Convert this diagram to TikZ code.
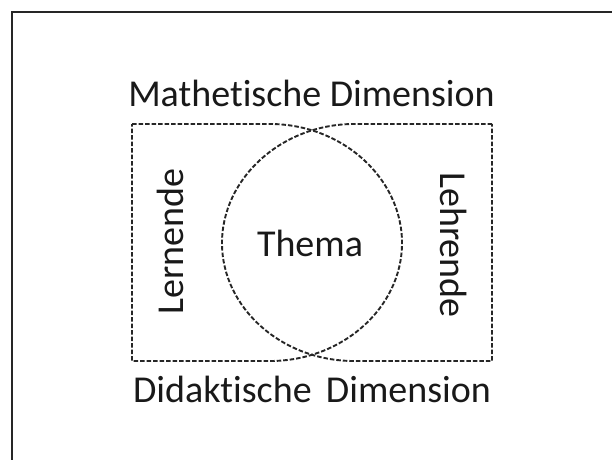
\documentclass[tikz,border=0pt]{standalone}
\usepackage{fontspec}
\setmainfont{Carlito}[Ligatures={NoCommon}]
\begin{document}
\begin{tikzpicture}[x=1pt,y=-1pt,
  dashline/.style={draw=black!85,line width=1.9pt,dash pattern=on 4.5pt off 2pt},
  lbl/.style={font=\fontsize{38}{46}\selectfont,anchor=base,inner sep=0pt,text=black!90}]
\useasboundingbox (0,0) rectangle (612,459);
% outer frame (extends beyond the page on the right and bottom)
\draw[line width=2.2pt,black!85] (12,470) -- (12,12) -- (620,12);
% left shape
\draw[dashline] (132,124) -- (270,124) .. controls (342,124) and (402,178) .. (402,243)
  .. controls (402,308) and (342,361) .. (270,361) -- (132,361) -- cycle;
% right shape
\draw[dashline] (492,124) -- (354,124) .. controls (282,124) and (222,178) .. (222,243)
  .. controls (222,308) and (282,361) .. (354,361) -- (492,361) -- cycle;
\node[lbl] (top) at (311.5,106.7) {Mathetische Dimension};
\node[lbl] (bot) at (312,402.7) {Didaktische\hspace{0.15em} Dimension};
\node[lbl] (thema) at (310,256) {Thema};
\node[lbl,rotate=90] (lern) at (183,241.5) {Lernende};
\node[lbl,rotate=-90] (lehr) at (440,245) {Lehrende};
\end{tikzpicture}
\end{document}
